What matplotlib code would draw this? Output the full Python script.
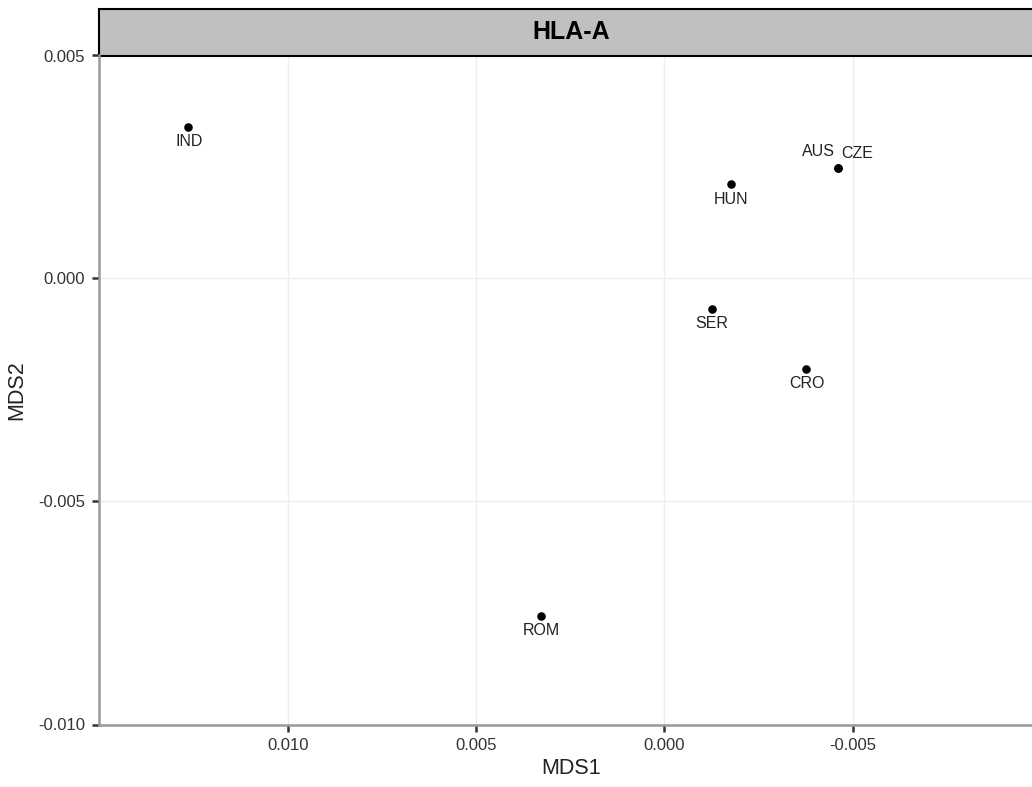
import numpy as np
import matplotlib.pyplot as plt
from matplotlib.patches import Rectangle

plt.rcParams['font.family'] = ['Liberation Sans', 'DejaVu Sans']

# MDS coordinates
pops = ["IND", "HUN", "AUS", "CZE", "SER", "CRO", "ROM"]
mds1 = [0.01267, -0.00177, -0.00460, -0.00460, -0.00126, -0.00375, 0.00328]
mds2 = [0.00339, 0.00212, 0.00248, 0.00248, -0.00068, -0.00203, -0.00757]
# label offsets in pixels (dx, dy), dy positive = up
offs = [(1, -14), (0, -16), (-19, 16), (20, 14), (0, -15), (1, -14), (0, -14)]

xticks = [0.010, 0.005, 0.000, -0.005]
yticks = [0.005, 0.000, -0.005, -0.010]

fig = plt.figure(figsize=(10.32, 7.87), dpi=100)
ax = fig.add_axes([99/1032, 1-724.5/787, (1043-99)/1032, (724.5-55.5)/787])

ax.scatter(mds1, mds2, s=38, color="black", zorder=3, linewidths=0)
for p, x, y, (dx, dy) in zip(pops, mds1, mds2, offs):
    ax.annotate(p, (x, y), xytext=(dx*0.72, dy*0.72), textcoords="offset points",
                ha="center", va="center", fontsize=11.5, color="#222222")

ax.set_xlim(0.01503, -0.01006)
ax.set_ylim(-0.010, 0.005)
ax.set_xticks(xticks)
ax.set_yticks(yticks)
ax.set_xticklabels(["%.3f" % t for t in xticks])
ax.set_yticklabels(["%.3f" % t for t in yticks])
ax.grid(True, color="#eeeeee", linewidth=1)
ax.set_axisbelow(True)

for s in ["top", "right"]:
    ax.spines[s].set_visible(False)
for s in ["left", "bottom"]:
    ax.spines[s].set_color("#999999")
    ax.spines[s].set_linewidth(1.8)
ax.tick_params(length=5, width=1.8, color="#333333", labelsize=12,
               labelcolor="#333333", pad=5)

ax.set_xlabel("MDS1", fontsize=15.5, color="#222222", labelpad=3)
ax.set_ylabel("MDS2", fontsize=15.5, color="#222222", labelpad=8)

# facet strip
strip_h = 46.5 / 669
ax.add_patch(Rectangle((0, 1), 1, strip_h, transform=ax.transAxes,
                       facecolor="#c0c0c0", edgecolor="black", linewidth=1.5,
                       clip_on=False))
ax.text(0.5, 1 + strip_h/2, "HLA-A", transform=ax.transAxes, ha="center",
        va="center", fontsize=18, fontweight="bold", color="black")

fig.savefig("out.png", dpi=100)
